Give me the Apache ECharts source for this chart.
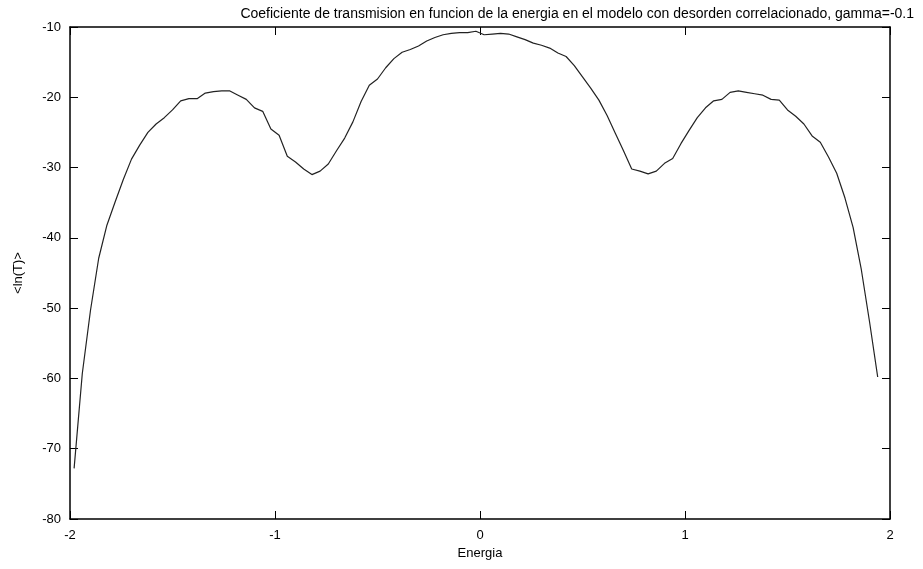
<!DOCTYPE html>
<html>
<head>
<meta charset="utf-8">
<script src="https://cdn.jsdelivr.net/npm/echarts@6/dist/echarts.min.js"></script>
<style>html,body{margin:0;padding:0;background:#fff}#c{width:923px;height:569px}</style>
</head>
<body>
<div id="c"></div>
<script>
var titleText = "Coeficiente de transmision en funcion de la energia en el modelo con desorden correlacionado, gamma=-0.1";
var xName = "Energia";
var yName = "<ln(T)>";
var xTicks = [-2, -1, 0, 1, 2];
var yTicks = [-80, -70, -60, -50, -40, -30, -20, -10];

var energia = [
  -1.98, -1.94, -1.90, -1.86, -1.82, -1.78, -1.74, -1.70, -1.66, -1.62,
  -1.58, -1.54, -1.50, -1.46, -1.42, -1.38, -1.34, -1.30, -1.26, -1.22,
  -1.18, -1.14, -1.10, -1.06, -1.02, -0.98, -0.94, -0.90, -0.86, -0.82,
  -0.78, -0.74, -0.70, -0.66, -0.62, -0.58, -0.54, -0.50, -0.46, -0.42,
  -0.38, -0.34, -0.30, -0.26, -0.22, -0.18, -0.14, -0.10, -0.06, -0.02,
  0.02, 0.06, 0.10, 0.14, 0.18, 0.22, 0.26, 0.30, 0.34, 0.38,
  0.42, 0.46, 0.50, 0.54, 0.58, 0.62, 0.66, 0.70, 0.74, 0.78,
  0.82, 0.86, 0.90, 0.94, 0.98, 1.02, 1.06, 1.10, 1.14, 1.18,
  1.22, 1.26, 1.30, 1.34, 1.38, 1.42, 1.46, 1.50, 1.54, 1.58,
  1.62, 1.66, 1.70, 1.74, 1.78, 1.82, 1.86, 1.90, 1.94
];
var lnT = [
  -72.8, -59.3, -50.3, -42.9, -38.2, -34.9, -31.7, -28.8, -26.8, -25.0,
  -23.8, -22.9, -21.8, -20.5, -20.2, -20.2, -19.4, -19.2, -19.1, -19.1,
  -19.7, -20.3, -21.5, -22.0, -24.5, -25.4, -28.4, -29.2, -30.2, -31.0,
  -30.5, -29.5, -27.6, -25.8, -23.5, -20.6, -18.3, -17.4, -15.8, -14.5,
  -13.6, -13.2, -12.7, -12.0, -11.5, -11.1, -10.9, -10.8, -10.8, -10.6,
  -11.1, -11.0, -10.9, -11.0, -11.4, -11.8, -12.3, -12.6, -13.0, -13.7,
  -14.2, -15.5, -17.1, -18.7, -20.4, -22.6, -25.1, -27.6, -30.2, -30.5,
  -30.9, -30.5, -29.4, -28.7, -26.6, -24.7, -22.9, -21.5, -20.5, -20.3,
  -19.3, -19.1, -19.3, -19.5, -19.7, -20.3, -20.4, -21.8, -22.7, -23.8,
  -25.5, -26.4, -28.5, -30.8, -34.3, -38.5, -44.5, -51.9, -59.8
];

var data = energia.map(function (e, i) { return [e, lnT[i]]; });
var FONT = "'Liberation Sans', Arial, sans-serif";
var line = { show: true, onZero: false, lineStyle: { color: '#000', width: 1.5 } };
var tick = { show: true, inside: true, length: 8, lineStyle: { color: '#000', width: 1 } };

var chart = echarts.init(document.getElementById('c'), null, { renderer: 'canvas' });
chart.setOption({
  animation: false,
  backgroundColor: '#fff',
  title: {
    text: titleText,
    right: 4, top: 2,
    textStyle: { fontFamily: FONT, fontSize: 14, fontWeight: 'normal', color: '#000' }
  },
  grid: { left: 70, right: 33, top: 27, bottom: 50 },
  xAxis: [{
    type: 'value', min: xTicks[0], max: xTicks[xTicks.length - 1], interval: 1,
    name: xName, nameLocation: 'middle', nameGap: 25,
    nameTextStyle: { fontFamily: FONT, fontSize: 13, color: '#000' },
    axisLine: line, axisTick: tick, splitLine: { show: false },
    axisLabel: { fontFamily: FONT, fontSize: 13, color: '#000', margin: 10 }
  }, {
    type: 'value', position: 'top', min: xTicks[0], max: xTicks[xTicks.length - 1], interval: 1,
    axisLine: line, axisTick: tick, splitLine: { show: false }, axisLabel: { show: false }
  }],
  yAxis: [{
    type: 'value', min: yTicks[0], max: yTicks[yTicks.length - 1], interval: 10,
    name: yName, nameLocation: 'middle', nameGap: 45, nameRotate: 90,
    nameTextStyle: { fontFamily: FONT, fontSize: 13, color: '#000' },
    axisLine: line, axisTick: tick, splitLine: { show: false },
    axisLabel: { fontFamily: FONT, fontSize: 13, color: '#000', margin: 9 }
  }, {
    type: 'value', position: 'right', min: yTicks[0], max: yTicks[yTicks.length - 1], interval: 10,
    axisLine: line, axisTick: tick, splitLine: { show: false }, axisLabel: { show: false }
  }],
  series: [{
    type: 'line', data: data, xAxisIndex: 0, yAxisIndex: 0,
    showSymbol: false, symbol: 'none', smooth: false,
    lineStyle: { color: '#222', width: 1.2 }
  }]
});
</script>
</body>
</html>
